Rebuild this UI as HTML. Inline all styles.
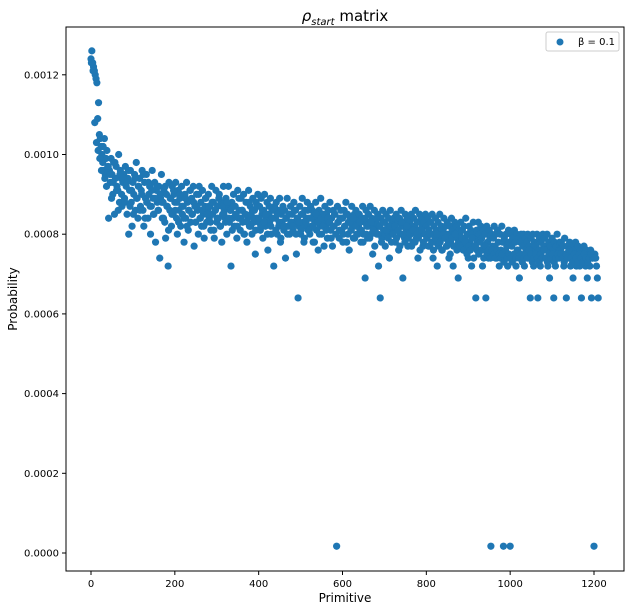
<!DOCTYPE html>
<html><head><meta charset="utf-8"><style>
body{margin:0;background:#fff;}
svg{display:block;font-family:"DejaVu Sans","Liberation Sans",sans-serif;}
</style></head><body>
<svg id="chart" width="631" height="612">
<text x="345" y="21" text-anchor="middle" font-size="15"><tspan font-style="italic">ρ</tspan><tspan font-size="10" dy="4" font-style="italic">start</tspan><tspan dy="-4"> matrix</tspan></text>
<g id="points"></g>
<rect x="66" y="27" width="558" height="544" fill="none" stroke="#000" stroke-width="1"/>
<g id="xticks"></g>
<g id="yticks"></g>
<text x="345" y="602" text-anchor="middle" font-size="12">Primitive</text>
<text transform="translate(17,299) rotate(-90)" text-anchor="middle" font-size="12">Probability</text>
<g>
<rect x="546" y="32" width="73" height="19" rx="2" fill="#fff" stroke="#ccc"/>
<circle cx="560" cy="42" r="3.5" fill="#1f77b4"/>
<text x="578" y="45" font-size="10">β = 0.1</text>
</g>
</svg>
<script>
const xStep = 2;
const values = [
124,126,123,122,121,120,119,118,109,113,105,104,102,100,98,96,104,95,99,101,
97,84,96,93,99,95,90,98,85,94,97,92,91,100,88,96,94,87,93,95,
89,97,92,85,94,80,91,96,88,82,93,90,95,86,98,89,84,92,94,87,
91,96,86,82,93,89,95,88,84,90,92,80,87,96,89,85,93,78,91,88,
86,92,74,89,95,84,88,91,83,79,90,87,72,93,86,89,82,92,85,90,
88,93,84,80,91,86,89,82,92,85,87,78,90,84,93,88,81,86,91,83,
89,85,92,77,87,83,90,86,80,92,84,88,82,91,85,79,87,89,83,86,
90,84,87,81,92,85,88,79,86,91,83,87,84,90,82,88,78,85,92,86,
84,89,80,87,92,83,86,72,88,84,90,82,87,85,79,91,84,86,81,89,
86,83,90,80,85,88,78,84,91,82,87,85,80,89,83,86,75,88,84,90,
83,87,81,89,85,79,86,90,82,84,88,76,85,83,89,80,86,84,72,87,
84,88,80,86,82,89,78,85,83,87,81,86,74,84,89,82,85,80,87,83,
85,81,88,83,86,75,84,64,82,87,80,85,89,83,78,86,82,84,88,81,
84,80,87,82,86,78,85,83,88,81,84,76,86,82,89,80,85,83,77,87,
82,85,79,86,83,88,81,84,77,86,82,85,80,1.7,87,83,79,84,86,81,
84,80,86,82,88,78,85,83,76,84,81,87,82,79,85,83,86,80,84,82,
85,81,78,84,87,80,83,69,86,82,79,85,83,87,80,84,75,82,86,81,
83,80,85,72,82,64,84,79,86,81,83,77,85,80,82,84,74,86,81,83,
80,84,82,78,85,81,83,76,84,80,86,82,69,83,79,85,81,84,77,82,
83,80,85,81,78,84,82,86,79,83,74,81,85,80,84,82,77,83,80,85,
82,79,84,81,77,83,80,85,74,82,78,84,81,72,83,80,85,79,82,76,
81,84,79,82,77,83,80,74,82,78,84,81,72,80,83,77,82,79,69,81,
80,83,78,81,76,82,79,84,77,80,74,82,78,81,72,80,83,77,79,64,
81,78,83,80,76,82,79,72,81,77,80,64,82,78,74,81,79,1.7,80,77,
79,82,77,80,74,81,78,72,80,76,82,78,1.7,79,74,80,77,72,81,78,
1.7,80,77,79,74,81,78,72,80,76,79,69,78,80,74,77,80,72,79,76,
78,80,74,77,64,79,76,80,72,78,74,77,80,64,76,79,72,78,74,80,
77,79,74,76,80,72,78,69,77,74,79,76,64,78,72,77,80,74,76,78,
76,78,74,77,72,79,75,64,77,74,76,78,72,75,77,69,76,74,78,72,
75,77,74,72,76,64,75,73,77,74,72,76,69,74,75,72,76,64,74,75,
1.7,75,74,72,69,64
];
const xStep2 = 4;
const xStart2 = 1;
const values2 = [
123,121,108,103,101,99,96,102,94,92,97,95,89,93,98,91,86,95,90,94,
88,93,96,87,91,85,94,89,92,86,90,95,84,88,93,87,91,85,89,92,
86,90,88,84,92,87,81,89,85,91,86,88,83,90,87,84,89,82,86,91,
85,88,83,87,90,84,86,82,89,85,87,83,88,81,86,84,89,82,87,85,
83,88,84,86,81,87,85,82,89,84,86,80,85,83,88,82,86,84,81,87,
84,82,86,83,85,80,87,82,84,86,81,85,83,79,86,82,84,80,85,83,
82,86,80,84,83,81,85,79,83,86,81,84,82,78,85,83,80,84,82,85,
81,84,83,79,82,85,80,83,81,84,78,82,85,80,83,81,84,79,82,80,
83,81,78,84,80,82,79,83,81,77,84,80,82,78,83,80,81,79,82,78,
80,82,79,81,77,83,80,78,82,79,80,77,81,78,80,79,76,81,78,80,
79,77,80,78,76,79,80,77,78,76,80,79,77,78,75,79,77,80,76,78,
77,79,76,78,75,77,76,79,74,77,76,75,78,76,74,77,75,76,74,76,
75,74,76,75,74,75,73,76,74,75,74,73,75,74,76,74,75,73,74,75,
74,76,75,73,74,75,74,73,75,74,76,74,73,75,74,75,73,74,75,74,
75,74,73,75,74,76,74,73,75,74,73,75,74,73,75,74,73,74,75,74,
74
];
const xTicks = [0,200,400,600,800,1000,1200];
const yTicks = [0,0.0002,0.0004,0.0006,0.0008,0.0010,0.0012];
const yTickLabels = ["0.0000","0.0002","0.0004","0.0006","0.0008","0.0010","0.0012"];

const NS = "http://www.w3.org/2000/svg";
function xScale(v){return 91 + v*503/1200;}
function yScale(p){return 553 - p/0.0002*79.7;}

const pg = document.getElementById("points");
function addPoint(x, v){
  const c = document.createElementNS(NS,"circle");
  c.setAttribute("cx", xScale(x));
  c.setAttribute("cy", yScale(v*1e-5));
  c.setAttribute("r", 3.6);
  c.setAttribute("fill", "#1f77b4");
  
  
  pg.appendChild(c);
}
values.forEach((v,i)=>addPoint(i*xStep, v));
values2.forEach((v,i)=>addPoint(xStart2 + i*xStep2, v));

const xg = document.getElementById("xticks");
xTicks.forEach(t=>{
  const x = xScale(t);
  const l = document.createElementNS(NS,"line");
  l.setAttribute("x1",x);l.setAttribute("x2",x);l.setAttribute("y1",571);l.setAttribute("y2",575);
  l.setAttribute("stroke","#000");
  
  
  xg.appendChild(l);
  const tx = document.createElementNS(NS,"text");
  tx.setAttribute("x",x);tx.setAttribute("y",587);tx.setAttribute("text-anchor","middle");tx.setAttribute("font-size","10");
  tx.textContent = t;
  
  
  xg.appendChild(tx);
});
const yg = document.getElementById("yticks");
yTicks.forEach((t,i)=>{
  const y = yScale(t);
  const l = document.createElementNS(NS,"line");
  l.setAttribute("x1",62);l.setAttribute("x2",66);l.setAttribute("y1",y);l.setAttribute("y2",y);
  l.setAttribute("stroke","#000");
  
  
  yg.appendChild(l);
  const tx = document.createElementNS(NS,"text");
  tx.setAttribute("x",59);tx.setAttribute("y",y+3.5);tx.setAttribute("text-anchor","end");tx.setAttribute("font-size","10");
  tx.textContent = yTickLabels[i];
  
  
  yg.appendChild(tx);
});
</script>
</body></html>
